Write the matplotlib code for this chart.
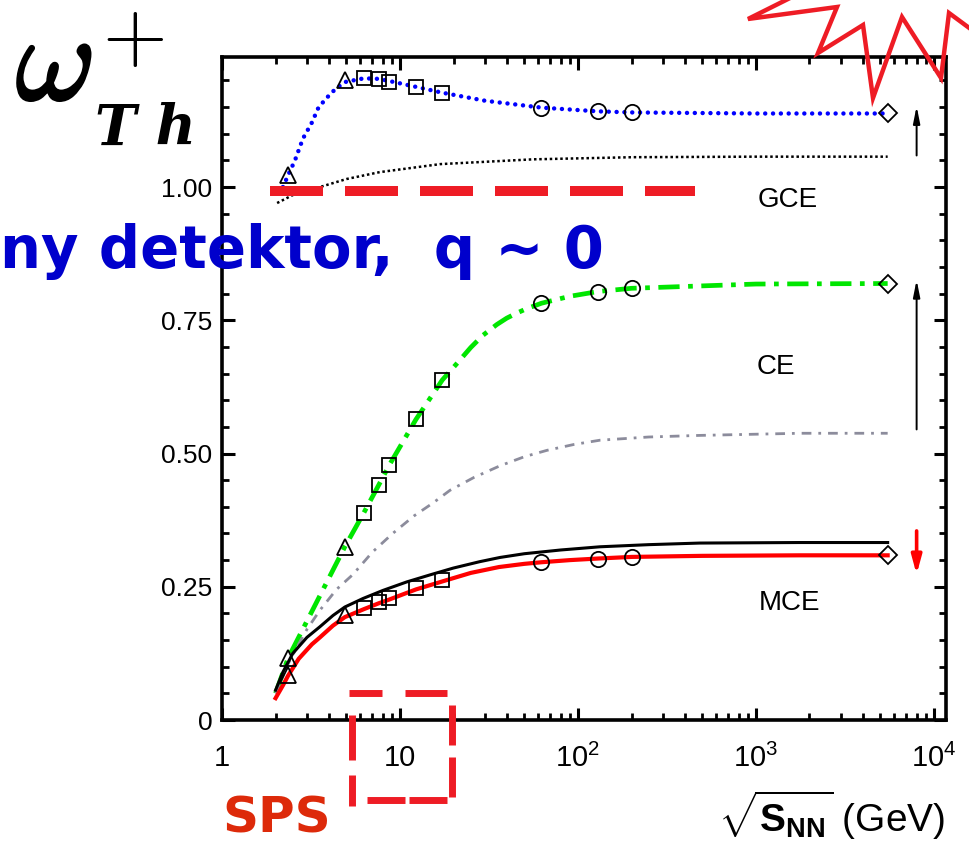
import numpy as np
import matplotlib
matplotlib.use("Agg")
import matplotlib.pyplot as plt
import matplotlib.patheffects as pe
from matplotlib.ticker import FixedLocator, LogLocator, MultipleLocator, NullFormatter
from matplotlib.lines import Line2D

plt.rcParams['font.family'] = ['Liberation Sans', 'DejaVu Sans']
plt.rcParams['mathtext.fontset'] = 'custom'
plt.rcParams['mathtext.rm'] = 'Liberation Sans'
plt.rcParams['mathtext.bf'] = 'Liberation Sans:bold'
plt.rcParams['mathtext.it'] = 'Liberation Sans:italic'

# curves: sqrt(s_NN) in GeV, omega+
gce_res_x = [2.2, 2.35, 2.57, 2.85, 3.2, 3.46, 3.79, 4.31, 4.9, 6.27, 7.6, 8.7, 12.3, 17.3, 30, 62.4, 130, 200, 1000, 5500]
gce_res_y = [1.0, 1.022, 1.05, 1.091, 1.121, 1.147, 1.164, 1.183, 1.197, 1.204, 1.203, 1.199, 1.188, 1.177, 1.162, 1.149, 1.142, 1.140, 1.138, 1.138]

gce_x = [2.04, 2.5, 3.55, 5.0, 7.7, 16.8, 56, 204, 1000, 5500]
gce_y = [0.97, 0.985, 1.0, 1.015, 1.028, 1.043, 1.052, 1.056, 1.057, 1.057]

ce_res_x = [2.0, 2.35, 4.9, 6.27, 7.6, 8.7, 12.3, 17.3, 20.9, 25, 29.3, 35, 39.8, 45, 51.7, 62.4, 90, 130, 200, 1000, 5500]
ce_res_y = [0.05, 0.116, 0.325, 0.389, 0.441, 0.478, 0.564, 0.638, 0.669, 0.699, 0.722, 0.742, 0.754, 0.763, 0.772, 0.782, 0.795, 0.804, 0.810, 0.818, 0.819]

ce_x = [2.0, 2.35, 2.64, 3.0, 3.55, 4.4, 5.44, 7.0, 9.1, 12, 15.3, 19.1, 26, 36.5, 50, 67, 95, 133, 250, 484, 1770, 5500]
ce_y = [0.05, 0.105, 0.137, 0.17, 0.206, 0.245, 0.273, 0.315, 0.35, 0.383, 0.407, 0.431, 0.455, 0.477, 0.494, 0.506, 0.517, 0.525, 0.531, 0.534, 0.538, 0.538]

mce_x = [2.0, 2.2, 2.5, 3.0, 3.55, 4.2, 4.9, 6.2, 8.0, 10.9, 15, 19.9, 28, 36.5, 50, 80, 133, 250, 484, 1770, 5500]
mce_y = [0.056, 0.09, 0.125, 0.155, 0.175, 0.196, 0.212, 0.228, 0.243, 0.259, 0.273, 0.285, 0.297, 0.305, 0.312, 0.319, 0.325, 0.329, 0.332, 0.333, 0.333]

mce_res_x = [2.0, 2.2, 2.35, 2.7, 3.2, 3.55, 4.2, 4.9, 6.27, 7.6, 8.7, 12.3, 17.3, 25, 36, 50, 62.4, 90, 130, 200, 500, 1770, 5500]
mce_res_y = [0.041, 0.065, 0.083, 0.115, 0.142, 0.155, 0.177, 0.193, 0.208, 0.219, 0.226, 0.245, 0.26, 0.276, 0.287, 0.293, 0.296, 0.300, 0.303, 0.306, 0.308, 0.309, 0.309]

# marker energies
tri_x = [2.35, 4.9]
sq_x = [6.27, 7.6, 8.7, 12.3, 17.3]
circ_x = [62.4, 130, 200]
dia_x = [5500]

gce_tri = [1.022, 1.20]
gce_sq = [1.204, 1.202, 1.198, 1.187, 1.176]
gce_circ = [1.148, 1.142, 1.140]
gce_dia = [1.138]

ce_tri = [0.116, 0.325]
ce_sq = [0.389, 0.441, 0.478, 0.564, 0.638]
ce_circ = [0.782, 0.804, 0.810]
ce_dia = [0.819]

mce_tri = [0.084, 0.197]
mce_sq = [0.21, 0.222, 0.228, 0.248, 0.262]
mce_circ = [0.296, 0.303, 0.306]
mce_dia = [0.309]

W, H = 970, 847
fig = plt.figure(figsize=(W / 100, H / 100), dpi=100)
fig.patch.set_facecolor('white')


def fx(px):
    return px / W


def fy(py):
    return 1 - py / H


ax = fig.add_axes([fx(222), fy(720), (946 - 222) / W, (720 - 57) / H])
ax.set_facecolor('none')
ax.set_xscale('log')
ax.set_xlim(1, 11700)
ax.set_ylim(0, 1.244)

ax.plot(gce_res_x, gce_res_y, color='#0000ff', lw=3.2, linestyle=(0, (0.01, 1.75)),
        dash_capstyle='round', zorder=3)
ax.plot(gce_x, gce_y, color='black', lw=1.8, linestyle=(0, (1, 1.1)), zorder=3)
ax.plot(ce_res_x, ce_res_y, color='#00e600', lw=3.4, linestyle=(0, (4.5, 1.8, 1, 1.8)), zorder=3)
ax.plot(ce_x, ce_y, color='#8c8c9c', lw=2.0, linestyle=(0, (3.5, 2.5, 1, 2.5)), zorder=3)
ax.plot(mce_x, mce_y, color='black', lw=2.2, zorder=3)
ax.plot(mce_res_x, mce_res_y, color='#ff0000', lw=3.0, zorder=3)

mk = dict(color='black', linestyle='none', fillstyle='none', mew=1.3, zorder=4)
for ys in (gce_tri, ce_tri, mce_tri):
    ax.plot(tri_x, ys, marker='^', ms=11, **mk)
for ys in (gce_sq, ce_sq, mce_sq):
    ax.plot(sq_x, ys, marker='s', ms=10, **mk)
for ys in (gce_circ, ce_circ, mce_circ):
    ax.plot(circ_x, ys, marker='o', ms=11, **mk)
for ys in (gce_dia, ce_dia, mce_dia):
    ax.plot(dia_x, ys, marker='D', ms=9, **mk)

ax.text(1514, 0.975, 'GCE', fontsize=20, ha='center', va='center')
ax.text(1295, 0.662, 'CE', fontsize=20, ha='center', va='center')
ax.text(1550, 0.219, 'MCE', fontsize=20, ha='center', va='center')

ax.annotate('', xy=(8000, 1.157), xytext=(8000, 1.054),
            arrowprops=dict(arrowstyle='-|>,head_width=0.2,head_length=1.0', color='black', lw=1.4))
ax.annotate('', xy=(8000, 0.831), xytext=(8000, 0.540),
            arrowprops=dict(arrowstyle='-|>,head_width=0.2,head_length=1.0', color='black', lw=1.4))
ax.annotate('', xy=(8000, 0.268), xytext=(8000, 0.36),
            arrowprops=dict(arrowstyle='-|>,head_width=0.3,head_length=1.1', color='#ff0000', lw=2.6))

# axes styling
for s in ax.spines.values():
    s.set_linewidth(2.6)
ax.xaxis.set_major_locator(FixedLocator([1, 10, 100, 1000, 10000]))
ax.xaxis.set_minor_locator(LogLocator(base=10, subs=np.arange(2, 10), numticks=20))
ax.xaxis.set_minor_formatter(NullFormatter())
ax.set_xticklabels(['1', '10', r'$\mathregular{10^2}$', r'$\mathregular{10^3}$', r'$\mathregular{10^4}$'])
ax.yaxis.set_major_locator(FixedLocator([0, 0.25, 0.5, 0.75, 1.0]))
ax.yaxis.set_minor_locator(MultipleLocator(0.05))
ax.set_yticklabels(['0', '0.25', '0.50', '0.75', '1.00'])
ax.tick_params(which='both', direction='in', top=True, right=True, labelsize=19)
ax.tick_params(which='major', length=9, width=2.2)
ax.tick_params(which='minor', length=5, width=2.0)
ax.tick_params(axis='x', which='major', pad=17, labelsize=21)
ax.tick_params(axis='y', which='major', pad=7)

fig.text(fx(945), fy(832), r'$\sqrt{\mathbf{S}_{\mathbf{NN}}}$ (GeV)', fontsize=28,
         ha='right', va='baseline')

# big label on the left, built from pieces
bold = [pe.withStroke(linewidth=2.2, foreground='black')]
fig.text(fx(16), fy(100), r'$\omega$', fontsize=88, ha='left', va='baseline',
         math_fontfamily='cm', path_effects=bold)
fig.text(fx(133), fy(38), r'$+$', fontsize=60, ha='center', va='center',
         math_fontfamily='cm')
fig.text(fx(95), fy(145), 'T h', family='DejaVu Serif', style='italic', fontweight='bold',
         fontsize=40, ha='left', va='baseline')

# overlays added on the slide
fig.text(fx(0), fy(268), 'ny detektor,  q ~ 0', fontsize=41.5, fontweight='bold',
         color='#0000cc', family='DejaVu Sans', ha='left', va='baseline', zorder=10)
fig.text(fx(222), fy(832), 'SPS', fontsize=36, fontweight='bold', color='#dd2a0a',
         family='DejaVu Sans', ha='left', va='baseline', zorder=10)

red = '#ee1c25'
ax.plot([1.86, 454], [0.992, 0.992], color=red, lw=7.2, linestyle=(0, (5.3, 2.2)),
        solid_capstyle='butt', dash_capstyle='butt', zorder=6, clip_on=False)

rect_segments = [
    ((349, 693), (382, 693)), ((405, 693), (447, 693)),
    ((452, 705), (452, 745)), ((452, 757), (452, 797)),
    ((367, 800), (405, 800)), ((409, 800), (447, 800)),
    ((352, 715), (352, 760)), ((352, 775), (352, 806)),
]
for (x0, y0), (x1, y1) in rect_segments:
    fig.add_artist(Line2D([fx(x0), fx(x1)], [fy(y0), fy(y1)], color=red, lw=5,
                          solid_capstyle='butt', zorder=10))

zig_x = [790, 748, 837, 818, 863, 873, 902, 941, 949, 972]
zig_y = [-2, 19, 7, 53, 25, 98, 17, 78, 13, 30]
fig.add_artist(Line2D([fx(v) for v in zig_x], [fy(v) for v in zig_y], color=red, lw=3.2,
                      solid_joinstyle='miter', zorder=10))

fig.savefig('out.png', dpi=100, facecolor='white')
